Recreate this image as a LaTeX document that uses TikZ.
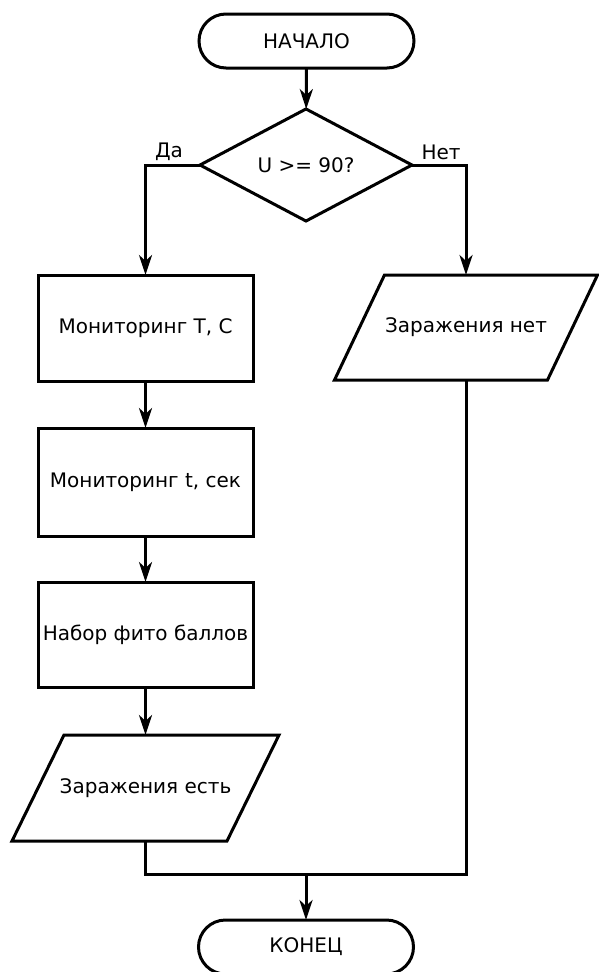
\documentclass[tikz,border=0pt]{standalone}
\usepackage{fontspec}
\setmainfont{DejaVu Sans}
\usetikzlibrary{shapes.geometric,arrows.meta,calc}
\begin{document}
\begin{tikzpicture}[x=1pt,y=-1pt,
  base/.style={draw=black,line width=3pt,font=\fontsize{20}{24}\selectfont,inner sep=0pt,outer sep=0pt,align=center},
  term/.style={base,rounded corners=27pt,minimum width=215pt,minimum height=54pt},
  decide/.style={base,diamond,minimum width=212pt,minimum height=106pt},
  proc/.style={base,rectangle,minimum width=215pt,minimum height=106pt},
  io/.style={font=\fontsize{20}{24}\selectfont,inner sep=0pt,outer sep=0pt,rectangle,minimum width=215pt,minimum height=106pt},
  lbl/.style={font=\fontsize{20}{24}\selectfont,inner sep=0pt},
  conn/.style={line width=3pt},
  shp/.style={line width=3pt,line join=miter},
  arr/.style={conn,-{Stealth[length=20pt,width=13pt,inset=6pt]}}]
\useasboundingbox[fill=white] (0,0) rectangle (598,972);
\node[term] (start) at (306.5,41) {НАЧАЛО};
\node[decide] (dia) at (306,165) {U >= 90?};
\node[proc] (b1) at (145.5,328) {Мониторинг T, C};
\node[proc,minimum height=108pt] (b2) at (145.5,482) {Мониторинг t, сек};
\node[proc,minimum height=105pt] (b3) at (145.5,634.5) {Набор фито баллов};
\node[io] (yes) at (145.5,788) {Заражения есть};
\node[io,minimum width=213pt,minimum height=105pt] (no) at (466,327.5) {Заражения нет};
\draw[shp] ($(yes.north west)+(26,0)$) -- ($(yes.north east)+(26,0)$) -- ($(yes.south east)+(-26,0)$) -- ($(yes.south west)+(-26,0)$) -- cycle;
\draw[shp] ($(no.north west)+(25,0)$) -- ($(no.north east)+(25,0)$) -- ($(no.south east)+(-25,0)$) -- ($(no.south west)+(-25,0)$) -- cycle;
\node[term] (end) at (306,947) {КОНЕЦ};
\node[lbl] (lyes) at (169,152) {Да};
\node[lbl] (lno) at (441,152) {Нет};
\coordinate (m) at (306,874);
\draw[arr] (start) -- (dia);
\draw[arr] (dia.west) -| (b1.north);
\draw[arr] (dia.east) -| (no.north);
\draw[arr] (b1) -- (b2);
\draw[arr] (b2) -- (b3);
\draw[arr] (b3) -- (yes);
\draw[conn] (yes.south) |- (m) -| (no.south);
\draw[arr] (m) -- (end);
\end{tikzpicture}
\end{document}
